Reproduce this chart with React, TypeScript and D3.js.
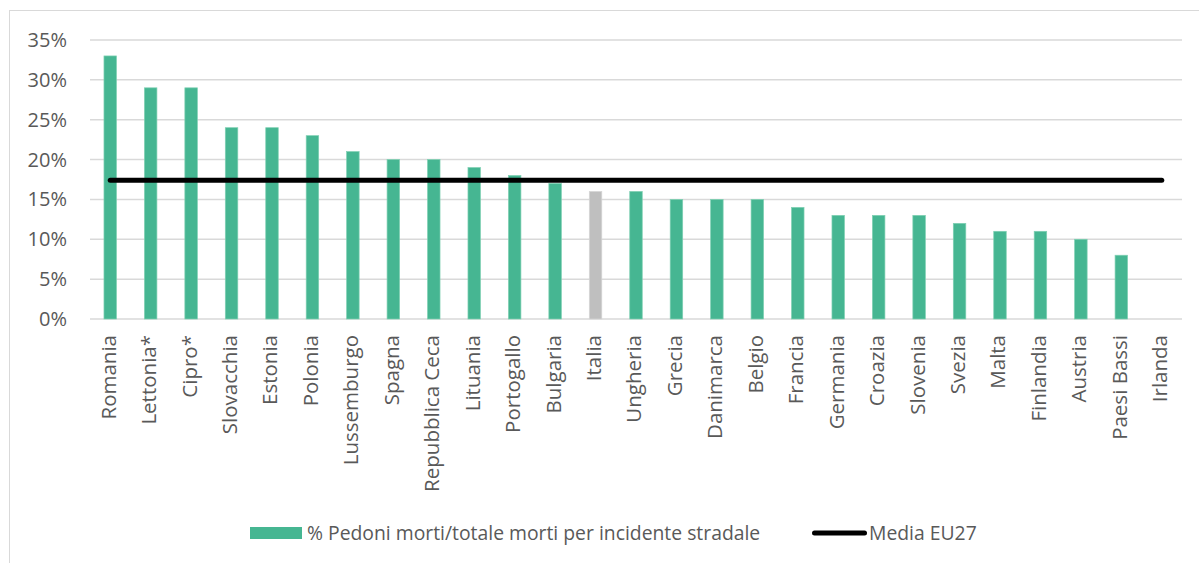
import React from "react";
import * as d3 from "d3";

const categories = ["Romania","Lettonia*","Cipro*","Slovacchia","Estonia","Polonia","Lussemburgo","Spagna","Repubblica Ceca","Lituania","Portogallo","Bulgaria","Italia","Ungheria","Grecia","Danimarca","Belgio","Francia","Germania","Croazia","Slovenia","Svezia","Malta","Finlandia","Austria","Paesi Bassi","Irlanda"];
const pedestrianShare = [33,29,29,24,24,23,21,20,20,19,18,17,16,16,15,15,15,14,13,13,13,12,11,11,10,8,0];
const euAverage = 17.4;
const yTicks = [0,5,10,15,20,25,30,35];
const highlight = "Italia";
const legendLabels = ["% Pedoni morti/totale morti per incidente stradale", "Media EU27"];

const W = 1199, H = 563;
const plot = { left: 90, right: 1182, top: 40, bottom: 319 };
const FONT = "'Open Sans', sans-serif";
const TXT = "#595959";

export default function App() {
  const x = d3.scaleBand<string>().domain(categories).range([plot.left, plot.right]).padding(0);
  const y = d3.scaleLinear().domain([0, 35]).range([plot.bottom, plot.top]);
  const cx = (c: string) => (x(c) as number) + x.bandwidth() / 2;
  const bw = 12.5;
  return (
    <div style={{ position: "absolute", left: 0, top: 0 }}>
      <svg width={W} height={H} style={{ display: "block", background: "#fff" }}>
        <rect x={9.5} y={10.5} width={1200} height={570} fill="#fff" stroke="#d9d9d9" strokeWidth={1} />
        {yTicks.map(t => (
          <g key={t}>
            <line x1={plot.left} x2={plot.right} y1={y(t)} y2={y(t)} stroke="#d9d9d9" strokeWidth={1.5} />
            <text x={67} y={y(t)} dy="0.35em" textAnchor="end" fontFamily={FONT} fontSize={20} fill={TXT}>{t + "%"}</text>
          </g>
        ))}
        {categories.map((c, i) => {
          const v = pedestrianShare[i];
          const center = cx(c);
          return (
            <g key={c}>
              {v > 0 && (
                <rect x={center - bw / 2} y={y(v)} width={bw} height={y(0) - y(v)}
                  fill={c === highlight ? "#BFBFBF" : "#46B692"} stroke={c === highlight ? "#d6d6d6" : "#7fd0b3"} strokeWidth={0.7} />
              )}
              <text transform={`translate(${center},335) rotate(-90)`} textAnchor="end" dominantBaseline="middle"
                fontFamily={FONT} fontSize={20.5} fill={TXT}>{c}</text>
            </g>
          );
        })}
        <line x1={cx(categories[0])} x2={cx(categories[categories.length - 1])} y1={y(euAverage)} y2={y(euAverage)}
          stroke="#000" strokeWidth={5} strokeLinecap="round" />
        <g fontFamily={FONT} fontSize={19.35} fill={TXT}>
          <rect x={250} y={527} width={52} height={12} fill="#46B692" />
          <text x={307} y={533} dy="0.35em">{legendLabels[0]}</text>
          <line x1={814.5} x2={864.5} y1={533} y2={533} stroke="#000" strokeWidth={5} strokeLinecap="round" />
          <text x={869} y={533} dy="0.35em">{legendLabels[1]}</text>
        </g>
      </svg>
    </div>
  );
}
